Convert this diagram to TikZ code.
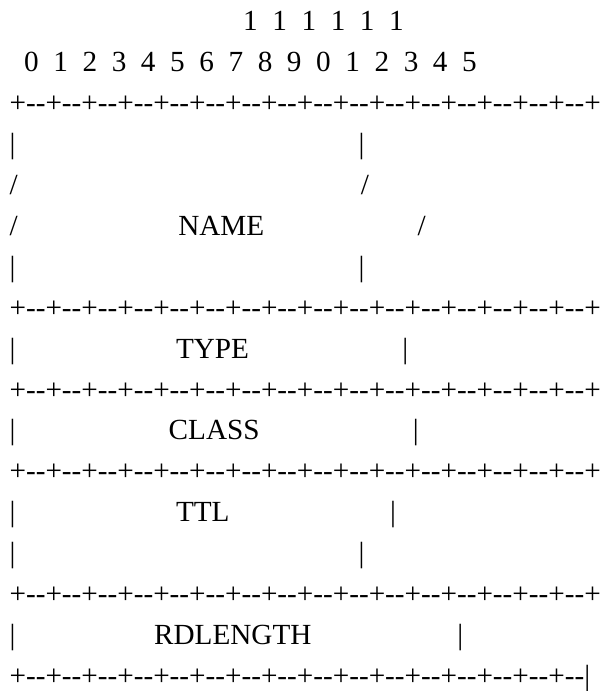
\documentclass[tikz,border=0pt]{standalone}
\usepackage{fontspec}
\setmainfont{Liberation Serif}[Ligatures=TeXOff]
\newcommand\sps[1]{\hspace*{#1\fontdimen2\font}}
\newcommand\segs{+-{}-+-{}-+-{}-+-{}-+-{}-+-{}-+-{}-+-{}-+-{}-+-{}-+-{}-+-{}-+-{}-+-{}-+-{}-+-{}-}
\begin{document}
\begin{tikzpicture}[x=1pt,y=1pt,
  asc/.style={anchor=base west, inner sep=0pt, outer sep=0pt, font=\fontsize{29.2pt}{40pt}\selectfont}]
\useasboundingbox (0,0) rectangle (603,691);
\def\lx{9.6}
\def\rowy#1{691-31-40.9*#1}
\node[asc] (r0)  at (\lx,{\rowy{0}})  {\sps{32}1\sps{2}1\sps{2}1\sps{2}1\sps{2}1\sps{2}1};
\node[asc] (r1)  at (\lx,{\rowy{1}})  {\sps{2}0\sps{2}1\sps{2}2\sps{2}3\sps{2}4\sps{2}5\sps{2}6\sps{2}7\sps{2}8\sps{2}9\sps{2}0\sps{2}1\sps{2}2\sps{2}3\sps{2}4\sps{2}5};
\node[asc] (r2)  at (\lx,{\rowy{2}})  {\segs+};
\node[asc] (r3)  at (\lx,{\rowy{3}})  {|\sps{47}|};
\node[asc] (r4)  at (\lx,{\rowy{4}})  {/\sps{47}/};
\node[asc] (r5)  at (\lx,{\rowy{5}})  {/\sps{22}NAME\sps{21}/};
\node[asc] (r6)  at (\lx,{\rowy{6}})  {|\sps{47}|};
\node[asc] (r7)  at (\lx,{\rowy{7}})  {\segs+};
\node[asc] (r8)  at (\lx,{\rowy{8}})  {|\sps{22}TYPE\sps{21}|};
\node[asc] (r9)  at (\lx,{\rowy{9}})  {\segs+};
\node[asc] (r10) at (\lx,{\rowy{10}}) {|\sps{21}CLASS\sps{21}|};
\node[asc] (r11) at (\lx,{\rowy{11}}) {\segs+};
\node[asc] (r12) at (\lx,{\rowy{12}}) {|\sps{22}TTL\sps{22}|};
\node[asc] (r13) at (\lx,{\rowy{13}}) {|\sps{47}|};
\node[asc] (r14) at (\lx,{\rowy{14}}) {\segs+};
\node[asc] (r15) at (\lx,{\rowy{15}}) {|\sps{19}RDLENGTH\sps{20}|};
\node[asc] (r16) at (\lx,{\rowy{16}}) {\segs|};
\end{tikzpicture}
\end{document}
